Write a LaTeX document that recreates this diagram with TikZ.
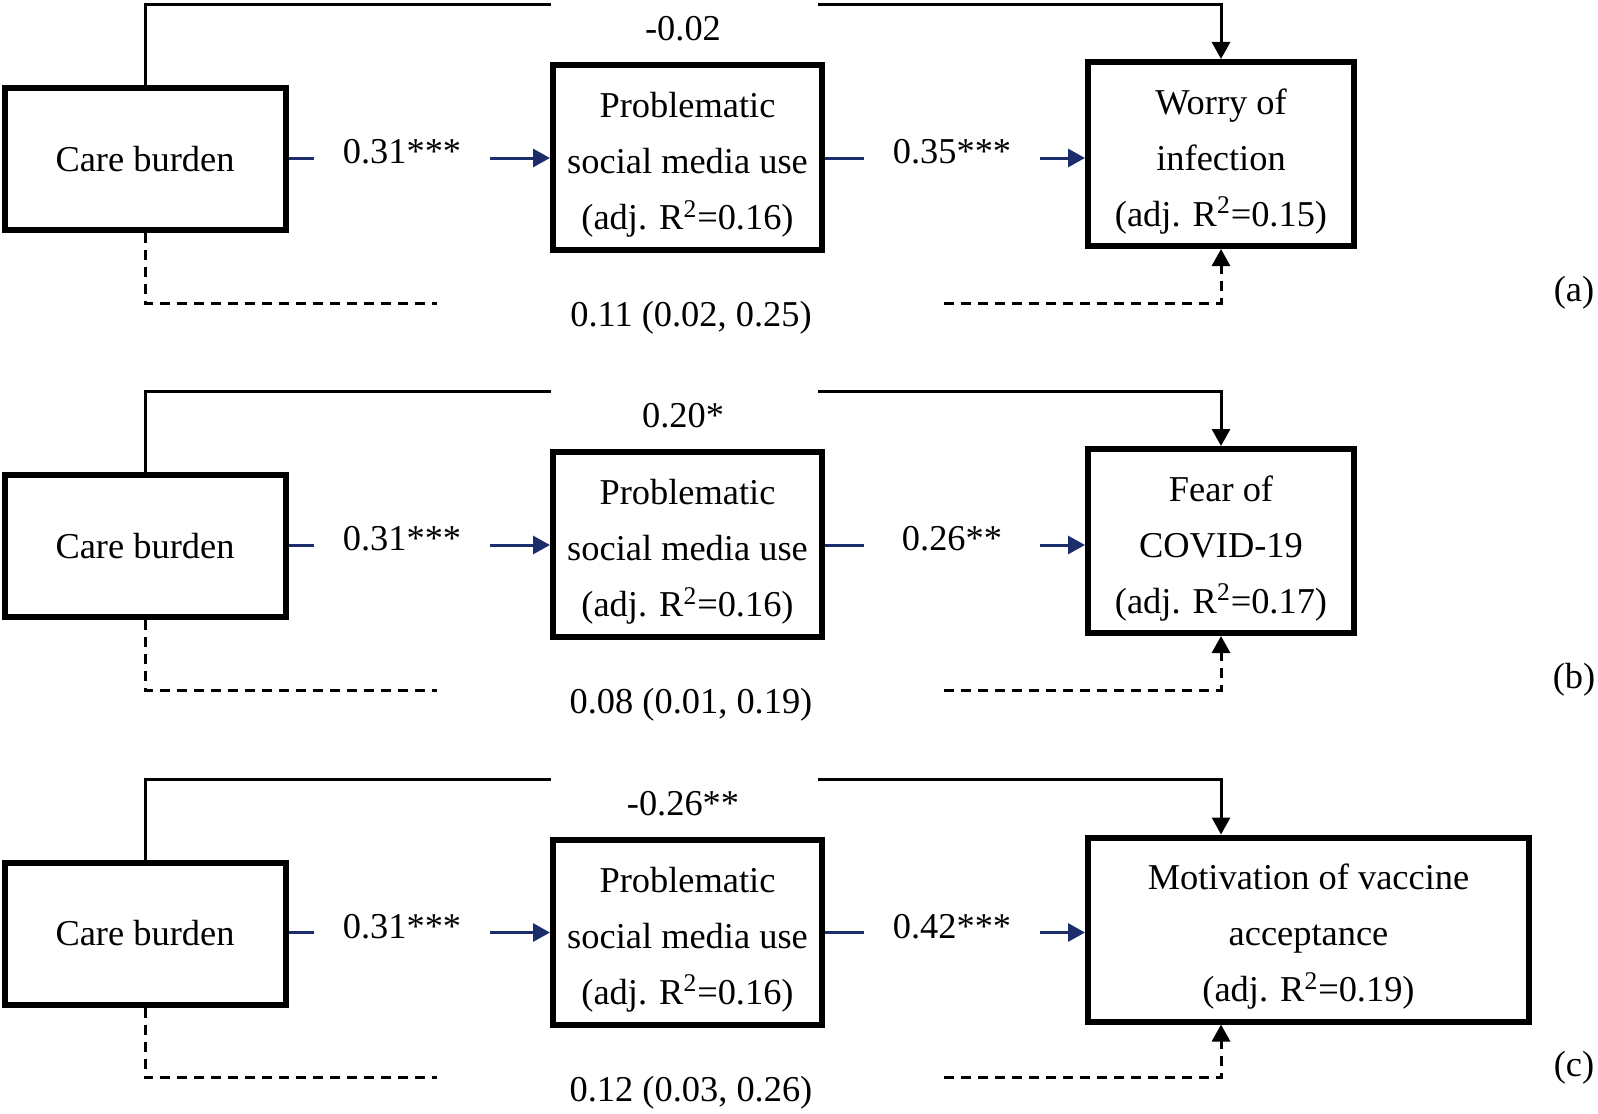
\documentclass[tikz,border=0pt]{standalone}
\usepackage{fontspec}
\setmainfont{Liberation Serif}
\usetikzlibrary{arrows.meta}
\definecolor{pathblue}{HTML}{1B2E6B}
\newcommand{\txtsize}{\fontsize{18.2}{28}\selectfont}
\newcommand{\firstline}{\rule{0pt}{20pt}}
\tikzset{var/.style={draw, line width=3pt, align=center, inner sep=0pt, font=\txtsize},
  coef/.style={inner sep=0pt, minimum width=88pt, text height=12.6pt, text depth=7pt, font=\txtsize},
  lab/.style={inner sep=0pt, font=\txtsize},
  tip/.style={-{Triangle[length=8.5pt,width=9pt]}},
  mediated/.style={pathblue, line width=1.5pt},
  direct/.style={black, line width=1.5pt},
  indirect/.style={black, line width=1.5pt, dash pattern=on 5pt off 3.5pt}}

\begin{document}
\begin{tikzpicture}[x=0.5pt, y=-0.5pt]
	\useasboundingbox (0,0) rectangle (1598,1113);
	% (a) worry of infection
	\node[var, minimum width=140.5pt, minimum height=71pt] (cbA) at (145,159) {Care burden};
	\node[var, minimum width=134.5pt, minimum height=92.5pt] (psmA) at (687.5,157.5) {\firstline Problematic\\social media use\\(adj. R\textsuperscript{2}=0.16)};
	\node[var, minimum width=133pt, minimum height=92pt] (outA) at (1221,154) {\firstline Worry of\\infection\\(adj. R\textsuperscript{2}=0.15)};
	\node[coef] (aA) at (402,158) {0.31***};
	\node[coef] (bA) at (952,158) {0.35***};
	\draw[mediated] (cbA.east |- aA.west) -- (aA.west);
	\draw[mediated, tip] (aA.east) -- (aA.east -| psmA.west);
	\draw[mediated] (psmA.east |- bA.west) -- (bA.west);
	\draw[mediated, tip] (bA.east) -- (bA.east -| outA.west);
	\coordinate (tlA) at (551,4.5);
	\coordinate (trA) at (818,4.5);
	\draw[direct] (cbA.north) |- (tlA);
	\draw[direct, tip] (trA) -| ([xshift=68pt]outA.north west);
	\node[lab] (cA) at (683,29) {-0.02};
	\coordinate (dlA) at (437,303);
	\coordinate (drA) at (944,303);
	\draw[indirect] (cbA.south) |- (dlA);
	\draw[indirect, tip] (drA) -| ([xshift=68pt]outA.south west);
	\node[lab] (indA) at (691,318) {0.11 (0.02, 0.25)};
	\node[lab] (tagA) at (1574,293) {(a)};
	% (b) fear of covid-19
	\begin{scope}[shift={(0,387)}]
	\node[var, minimum width=140.5pt, minimum height=71pt] (cbB) at (145,159) {Care burden};
	\node[var, minimum width=134.5pt, minimum height=92.5pt] (psmB) at (687.5,157.5) {\firstline Problematic\\social media use\\(adj. R\textsuperscript{2}=0.16)};
	\node[var, minimum width=133pt, minimum height=92pt] (outB) at (1221,154) {\firstline Fear of\\COVID-19\\(adj. R\textsuperscript{2}=0.17)};
	\node[coef] (aB) at (402,158) {0.31***};
	\node[coef] (bB) at (952,158) {0.26**};
	\draw[mediated] (cbB.east |- aB.west) -- (aB.west);
	\draw[mediated, tip] (aB.east) -- (aB.east -| psmB.west);
	\draw[mediated] (psmB.east |- bB.west) -- (bB.west);
	\draw[mediated, tip] (bB.east) -- (bB.east -| outB.west);
	\coordinate (tlB) at (551,4.5);
	\coordinate (trB) at (818,4.5);
	\draw[direct] (cbB.north) |- (tlB);
	\draw[direct, tip] (trB) -| ([xshift=68pt]outB.north west);
	\node[lab] (cB) at (683,29) {0.20*};
	\coordinate (dlB) at (437,303);
	\coordinate (drB) at (944,303);
	\draw[indirect] (cbB.south) |- (dlB);
	\draw[indirect, tip] (drB) -| ([xshift=68pt]outB.south west);
	\node[lab] (indB) at (691,318) {0.08 (0.01, 0.19)};
	\node[lab] (tagB) at (1574,293) {(b)};
	\end{scope}
	% (c) vaccine acceptance
	\begin{scope}[shift={(0,774.5)}]
	\node[var, minimum width=140.5pt, minimum height=71pt] (cbC) at (145,159) {Care burden};
	\node[var, minimum width=134.5pt, minimum height=92.5pt] (psmC) at (687.5,157.5) {\firstline Problematic\\social media use\\(adj. R\textsuperscript{2}=0.16)};
	\node[var, minimum width=220.5pt, minimum height=92pt] (outC) at (1308.5,155) {\firstline Motivation of vaccine\\acceptance\\(adj. R\textsuperscript{2}=0.19)};
	\node[coef] (aC) at (402,158) {0.31***};
	\node[coef] (bC) at (952,158) {0.42***};
	\draw[mediated] (cbC.east |- aC.west) -- (aC.west);
	\draw[mediated, tip] (aC.east) -- (aC.east -| psmC.west);
	\draw[mediated] (psmC.east |- bC.west) -- (bC.west);
	\draw[mediated, tip] (bC.east) -- (bC.east -| outC.west);
	\coordinate (tlC) at (551,4.5);
	\coordinate (trC) at (818,4.5);
	\draw[direct] (cbC.north) |- (tlC);
	\draw[direct, tip] (trC) -| ([xshift=68pt]outC.north west);
	\node[lab] (cC) at (683,29) {-0.26**};
	\coordinate (dlC) at (437,303);
	\coordinate (drC) at (944,303);
	\draw[indirect] (cbC.south) |- (dlC);
	\draw[indirect, tip] (drC) -| ([xshift=68pt]outC.south west);
	\node[lab] (indC) at (691,318) {0.12 (0.03, 0.26)};
	\node[lab] (tagC) at (1574,293) {(c)};
	\end{scope}
\end{tikzpicture}
\end{document}
